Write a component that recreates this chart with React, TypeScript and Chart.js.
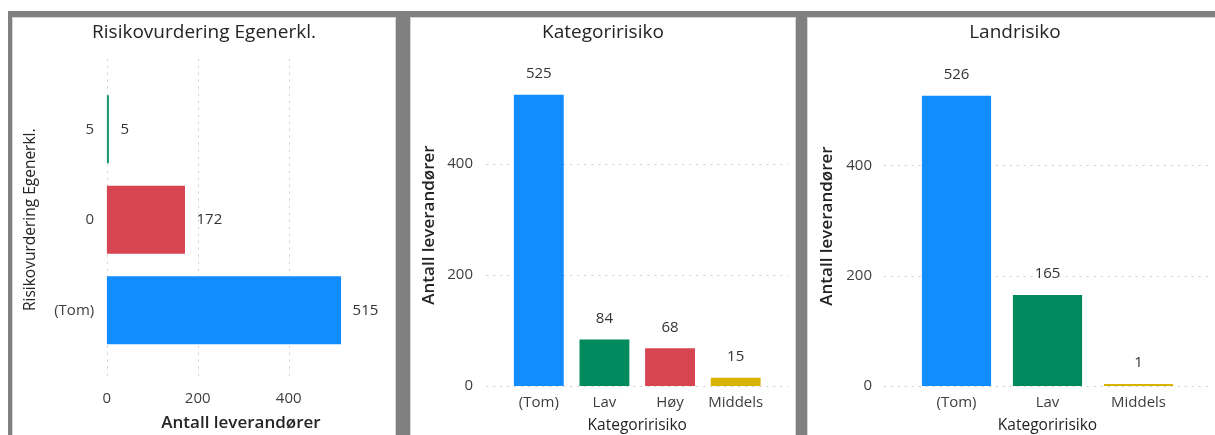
import React, { useEffect, useRef } from 'react';
import { Chart, registerables } from 'chart.js';

Chart.register(...registerables);

const FONT = '"Open Sans", "Noto Sans", sans-serif';
const TICK_COLOR = '#3F3E3D';
const TEXT_COLOR = '#252423';

// ---- data ----
const riskCategories = ['5', '0', '(Tom)'];
const riskValues = [5, 172, 515];
const riskColors = ['#1A9A6C', '#D64550', '#118DFF'];

const katCategories = ['(Tom)', 'Lav', 'Høy', 'Middels'];
const katValues = [525, 84, 68, 15];
const katColors = ['#118DFF', '#008A5E', '#D64550', '#D9B300'];

const landCategories = ['(Tom)', 'Lav', 'Middels'];
const landValues = [526, 165, 1];
const landColors = ['#118DFF', '#008A5E', '#D9B300'];

const valueTicks = [0, 200, 400];

const titles = ['Risikovurdering Egenerkl.', 'Kategoririsiko', 'Landrisiko'];
const valueAxisTitle = 'Antall leverandører';
const riskAxisTitle = 'Risikovurdering Egenerkl.';
const katAxisTitle = 'Kategoririsiko';

// ---- plugins ----
const dottedGrid = {
  id: 'dottedGrid',
  beforeDatasetsDraw(chart: any, _args: any, opts: any) {
    if (!opts || !opts.valueAxis) return;
    const vs = chart.scales[opts.valueAxis];
    const cs = chart.scales[opts.catAxis];
    const band = Math.abs(cs.getPixelForValue(1) - cs.getPixelForValue(0));
    const ext = band * opts.extend;
    const { ctx, chartArea: ca } = chart;
    ctx.save();
    ctx.strokeStyle = '#CFCDCB';
    ctx.lineWidth = 1;
    ctx.setLineDash([2, 5]);
    for (const t of vs.ticks) {
      const p = Math.round(vs.getPixelForValue(t.value)) + 0.5;
      ctx.beginPath();
      if (vs.isHorizontal()) {
        ctx.moveTo(p, ca.top - ext);
        ctx.lineTo(p, ca.bottom + ext);
      } else {
        ctx.moveTo(ca.left - ext, p);
        ctx.lineTo(ca.right + ext, p);
      }
      ctx.stroke();
    }
    ctx.restore();
  },
};

const valueLabels = {
  id: 'valueLabels',
  afterDatasetsDraw(chart: any, _args: any, opts: any) {
    const { ctx } = chart;
    const meta = chart.getDatasetMeta(0);
    const data = chart.data.datasets[0].data;
    ctx.save();
    ctx.font = `15px ${FONT}`;
    ctx.fillStyle = '#333333';
    ctx.textBaseline = 'middle';
    meta.data.forEach((el: any, i: number) => {
      const { x, y } = el.getProps(['x', 'y'], true);
      if (opts.horizontal) {
        ctx.textAlign = 'left';
        ctx.fillText(String(data[i]), x + opts.gap, y);
      } else {
        ctx.textAlign = 'center';
        ctx.fillText(String(data[i]), x, y - opts.gap);
      }
    });
    ctx.restore();
  },
};

const setTicks = (scale: any) => {
  scale.ticks = valueTicks.map((v) => ({ value: v }));
};

function makeVertical(labels: string[], values: number[], colors: string[], yTickPad: number, rightPad: number, yTitlePadTop: number, yWidth: number) {
  return {
    type: 'bar',
    data: {
      labels,
      datasets: [{ data: values, backgroundColor: colors, categoryPercentage: 1, barPercentage: 0.76, minBarLength: 2 }],
    },
    options: {
      animation: false,
      responsive: false,
      layout: { padding: { top: 46.1, left: 0, right: rightPad, bottom: 0 } },
      plugins: {
        legend: { display: false },
        tooltip: { enabled: false },
        title: { display: false },
        dottedGrid: { valueAxis: 'y', catAxis: 'x', extend: 0.3 },
        valueLabels: { horizontal: false, gap: 21 },
      },
      scales: {
        x: {
          type: 'category',
          grid: { display: false, drawTicks: false },
          border: { display: false },
          ticks: { color: TICK_COLOR, font: { family: FONT, size: 15 }, padding: 8, maxRotation: 0 },
          title: {
            display: true,
            text: katAxisTitle,
            color: TEXT_COLOR,
            font: { family: FONT, size: 15.5 },
            padding: { top: 0, bottom: 0 },
          },
          afterFit: (s: any) => { s.height = 49; },
        },
        y: {
          type: 'linear',
          min: 0,
          max: 580,
          grid: { display: false, drawTicks: false },
          border: { display: false },
          afterBuildTicks: setTicks,
          ticks: { color: TICK_COLOR, font: { family: FONT, size: 15 }, padding: yTickPad },
          title: {
            display: true,
            text: valueAxisTitle,
            color: TEXT_COLOR,
            font: { family: FONT, size: 17, weight: '600' },
            padding: { top: yTitlePadTop, bottom: 0 },
          },
          afterFit: (s: any) => { s.width = yWidth; },
        },
      },
    },
    plugins: [dottedGrid, valueLabels],
  };
}

const riskConfig: any = {
  type: 'bar',
  data: {
    labels: riskCategories,
    datasets: [{ data: riskValues, backgroundColor: riskColors, categoryPercentage: 1, barPercentage: 0.75, minBarLength: 2 }],
  },
  options: {
    indexAxis: 'y',
    animation: false,
    responsive: false,
    layout: { padding: { top: 66, left: 0, right: 19.8, bottom: 0 } },
    plugins: {
      legend: { display: false },
      tooltip: { enabled: false },
      title: { display: false },
      dottedGrid: { valueAxis: 'x', catAxis: 'y', extend: 0.28 },
      valueLabels: { horizontal: true, gap: 11.5 },
    },
    scales: {
      x: {
        type: 'linear',
        min: 0,
        max: 590,
        grid: { display: false, drawTicks: false },
        border: { display: false },
        afterBuildTicks: setTicks,
        ticks: { color: TICK_COLOR, font: { family: FONT, size: 15 }, padding: 34.5, maxRotation: 0 },
        title: {
          display: true,
          text: valueAxisTitle,
          color: TEXT_COLOR,
          font: { family: FONT, size: 17, weight: '600' },
          padding: { top: 0, bottom: 1.2 },
        },
        afterFit: (s: any) => { s.height = 79.5; },
      },
      y: {
        type: 'category',
        grid: { display: false, drawTicks: false },
        border: { display: false },
        ticks: { color: TICK_COLOR, font: { family: FONT, size: 15 }, padding: 12.5 },
        title: {
          display: true,
          text: riskAxisTitle,
          color: TEXT_COLOR,
          font: { family: FONT, size: 15.5 },
          padding: { top: 8, bottom: 0 },
        },
        afterFit: (s: any) => { s.width = 93.7; },
      },
    },
  },
  plugins: [dottedGrid, valueLabels],
};

const katConfig: any = makeVertical(katCategories, katValues, katColors, 33, 26.5, 8.2, 95);
const landConfig: any = makeVertical(landCategories, landValues, landColors, 39, 38, 9.2, 103);

function ChartCanvas({ config, width, height }: { config: any; width: number; height: number }) {
  const ref = useRef<HTMLCanvasElement | null>(null);
  useEffect(() => {
    if (!ref.current) return;
    const chart = new Chart(ref.current, config);
    return () => chart.destroy();
  }, [config]);
  return <canvas ref={ref} width={width} height={height} style={{ display: 'block', width, height }} />;
}

function Panel({ left, width, config, canvasWidth, title }: { left: number; width: number; config: any; canvasWidth: number; title: string }) {
  return (
    <div
      style={{
        position: 'absolute',
        left,
        top: 17,
        width,
        height: 440,
        background: '#ffffff',
        border: '1px solid #D6D6D6',
        boxSizing: 'border-box',
      }}
    >
      <ChartCanvas config={config} width={canvasWidth} height={417} />
      <div
        style={{
          position: 'absolute',
          left: 0,
          top: 0,
          width: canvasWidth,
          height: 26,
          lineHeight: '26px',
          textAlign: 'center',
          fontFamily: FONT,
          fontSize: 19,
          color: TEXT_COLOR,
          whiteSpace: 'nowrap',
        }}
      >
        {title}
      </div>
    </div>
  );
}

export default function App() {
  return (
    <div style={{ position: 'fixed', left: 0, top: 0, width: 1215, height: 435, overflow: 'hidden', background: '#ffffff' }}>
      <div style={{ position: 'absolute', left: 8, top: 11, width: 1300, height: 500, background: '#808080' }} />
      <Panel left={12} width={384} config={riskConfig} canvasWidth={382} title={titles[0]} />
      <Panel left={410} width={386} config={katConfig} canvasWidth={384} title={titles[1]} />
      <Panel left={807} width={420} config={landConfig} canvasWidth={414} title={titles[2]} />
    </div>
  );
}
